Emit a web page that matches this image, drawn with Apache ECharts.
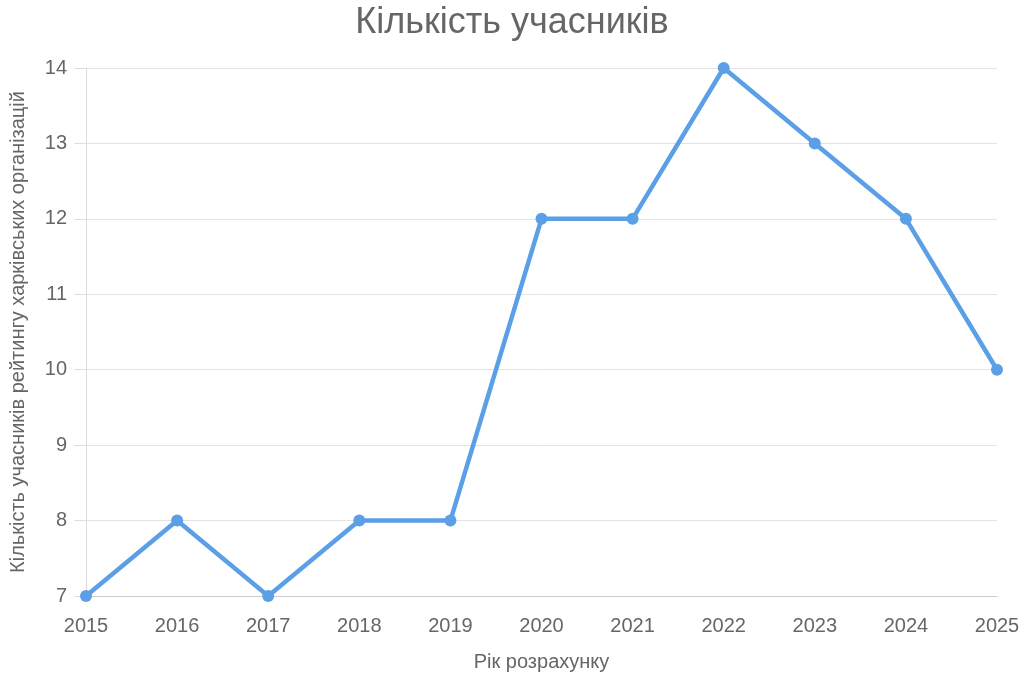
<!DOCTYPE html>
<html>
<head>
<meta charset="utf-8">
<script src="https://cdn.jsdelivr.net/npm/echarts@6/dist/echarts.min.js"></script>
<style>html,body{margin:0;padding:0;background:#fff}#c{width:1024px;height:683px}</style>
</head>
<body>
<div id="c"></div>
<script>
const years = ['2015','2016','2017','2018','2019','2020','2021','2022','2023','2024','2025'];
const participants = [7, 8, 7, 8, 8, 12, 12, 14, 13, 12, 10];
const titleText = 'Кількість учасників';
const xName = 'Рік розрахунку';
const yName = 'Кількість учасників рейтингу харківських організацій';

const chart = echarts.init(document.getElementById('c'), null, {renderer: 'canvas'});
const font = 'Liberation Sans, Arial, sans-serif';
chart.setOption({
  animation: false,
  backgroundColor: '#fff',
  title: {
    text: titleText, left: 'center', top: 0,
    textStyle: {fontFamily: font, fontSize: 36, fontWeight: 'normal', color: '#666'}
  },
  grid: {left: 85, right: 27, top: 68, bottom: 87},
  xAxis: {
    type: 'category', data: years, boundaryGap: false,
    name: xName, nameLocation: 'middle', nameGap: 56,
    nameTextStyle: {fontFamily: font, fontSize: 20, color: '#666'},
    axisLine: {lineStyle: {color: '#ccc'}},
    axisTick: {show: false},
    axisLabel: {fontFamily: font, fontSize: 20, color: '#666', margin: 20},
    splitLine: {show: false}
  },
  yAxis: {
    type: 'value', min: 7, max: 14, interval: 1,
    name: yName, nameLocation: 'middle', nameGap: 58,
    nameTextStyle: {fontFamily: font, fontSize: 20, color: '#666'},
    axisLine: {show: true, lineStyle: {color: '#ddd'}},
    axisTick: {show: true, length: 12, lineStyle: {color: '#ddd'}},
    axisLabel: {fontFamily: font, fontSize: 20, color: '#666', margin: 19},
    splitLine: {show: true, lineStyle: {color: '#e3e3e3'}}
  },
  series: [{
    type: 'line', data: participants,
    symbol: 'circle', symbolSize: 12,
    lineStyle: {color: '#5BA0E6', width: 4.5},
    itemStyle: {color: '#5BA0E6'}
  }]
});
</script>
</body>
</html>
